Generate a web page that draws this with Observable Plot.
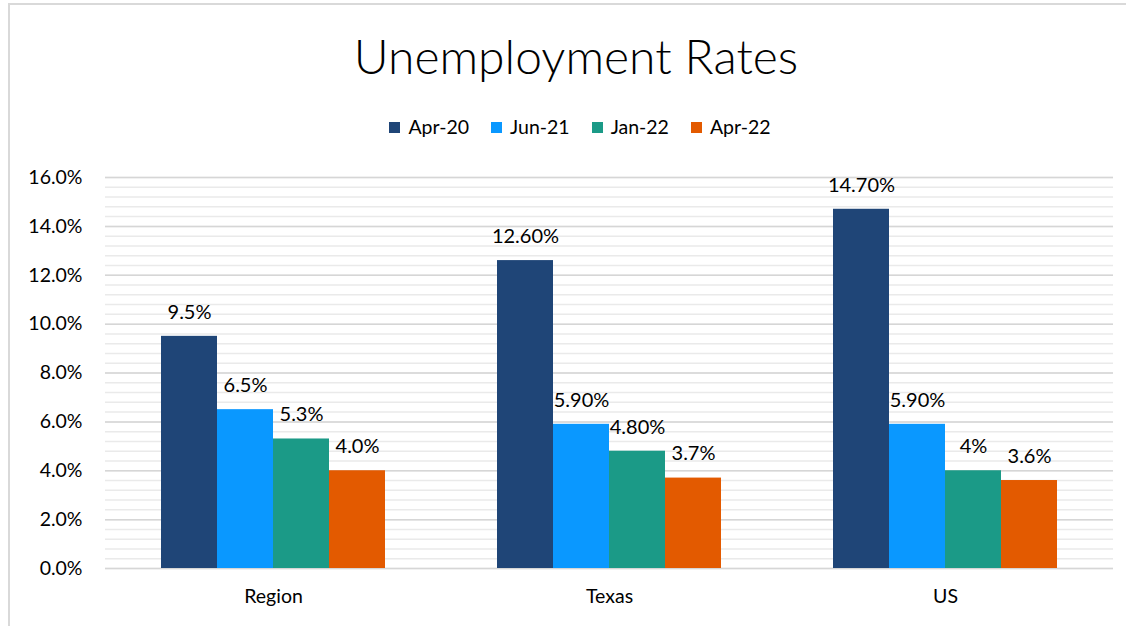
<!DOCTYPE html>
<html>
<head>
<meta charset="utf-8">
<script src="https://cdn.jsdelivr.net/npm/d3@7"></script>
<script src="https://cdn.jsdelivr.net/npm/@observablehq/plot@0.6"></script>
<style>
  html, body { margin: 0; padding: 0; background: #fff; overflow: hidden; width: 1126px; height: 626px; }
  body { position: relative; font-family: Lato, "Open Sans", sans-serif; color: #000; }
  #frame { position: absolute; left: 8px; top: 3px; width: 2000px; height: 2000px; border-top: 2px solid #d9d9d9; border-left: 2px solid #d9d9d9; }
  #title { position: absolute; left: 0; top: 26px; width: 1152px; text-align: center; font-size: 48px; font-weight: 300; line-height: 60px; }
  #legend { position: absolute; left: 0; top: 115px; width: 1160px; display: flex; justify-content: center; gap: 22px; font-size: 19.5px; line-height: 24px; }
  #legend .item { display: flex; align-items: center; gap: 8px; }
  #legend .sw { width: 11px; height: 11px; display: inline-block; }
  #chart { position: absolute; left: 0; top: 150px; }
</style>
</head>
<body>
<div id="frame"></div>
<div id="title">Unemployment Rates</div>
<div id="legend"></div>
<div id="chart"></div>
<script>
const categories = ["Region", "Texas", "US"];
const periods = ["Apr-20", "Jun-21", "Jan-22", "Apr-22"];
const colors = ["#1f4577", "#0a98ff", "#1b9a87", "#e35a00"];
const apr20 = [9.5, 12.6, 14.7];
const jun21 = [6.5, 5.9, 5.9];
const jan22 = [5.3, 4.8, 4.0];
const apr22 = [4.0, 3.7, 3.6];
const apr20Labels = ["9.5%", "12.60%", "14.70%"];
const jun21Labels = ["6.5%", "5.90%", "5.90%"];
const jan22Labels = ["5.3%", "4.80%", "4%"];
const apr22Labels = ["4.0%", "3.7%", "3.6%"];
const yTicks = [0, 2, 4, 6, 8, 10, 12, 14, 16];

const seriesValues = [apr20, jun21, jan22, apr22];
const seriesLabels = [apr20Labels, jun21Labels, jan22Labels, apr22Labels];
const data = [];
categories.forEach((c, ci) => {
  periods.forEach((p, pi) => {
    data.push({cat: c, period: p, value: seriesValues[pi][ci], label: seriesLabels[pi][ci]});
  });
});

// legend
const legend = document.getElementById("legend");
periods.forEach((p, i) => {
  const it = document.createElement("div");
  it.className = "item";
  const sw = document.createElement("span");
  sw.className = "sw";
  sw.style.background = colors[i];
  const tx = document.createElement("span");
  tx.textContent = p;
  it.appendChild(sw); it.appendChild(tx);
  legend.appendChild(it);
});

const minorGrid = d3.range(0, 80).map(i => i * 0.4).filter(v => v <= 16.001);

const chart = Plot.plot({
  width: 1126,
  height: 476,
  marginLeft: 105,
  marginRight: 13,
  marginTop: 27,
  marginBottom: 58,
  style: {fontFamily: "Lato, 'Open Sans', sans-serif", fontSize: "19.5px", color: "#000", background: "transparent"},
  fx: {domain: categories, padding: 0, label: null, axis: "bottom", tickSize: 0, tickPadding: 21, round: false},
  x: {domain: periods, paddingInner: 0, paddingOuter: 1, axis: null, round: false},
  y: {domain: [0, 16], ticks: yTicks, tickFormat: d => d.toFixed(1) + "%", tickSize: 0, tickPadding: 23, label: null},
  color: {domain: periods, range: colors},
  marks: [
    Plot.ruleY(minorGrid, {stroke: "#eaeaea", strokeWidth: 1.5}),
    Plot.ruleY(yTicks, {stroke: "#d6d6d6", strokeWidth: 1.5}),
    Plot.barY(data, {fx: "cat", x: "period", y: "value", fill: "period"}),
    Plot.text(data, {fx: "cat", x: "period", y: "value", text: "label", dy: -24, fontSize: 20, fill: "#000"})
  ]
});
document.getElementById("chart").appendChild(chart);
</script>
</body>
</html>
